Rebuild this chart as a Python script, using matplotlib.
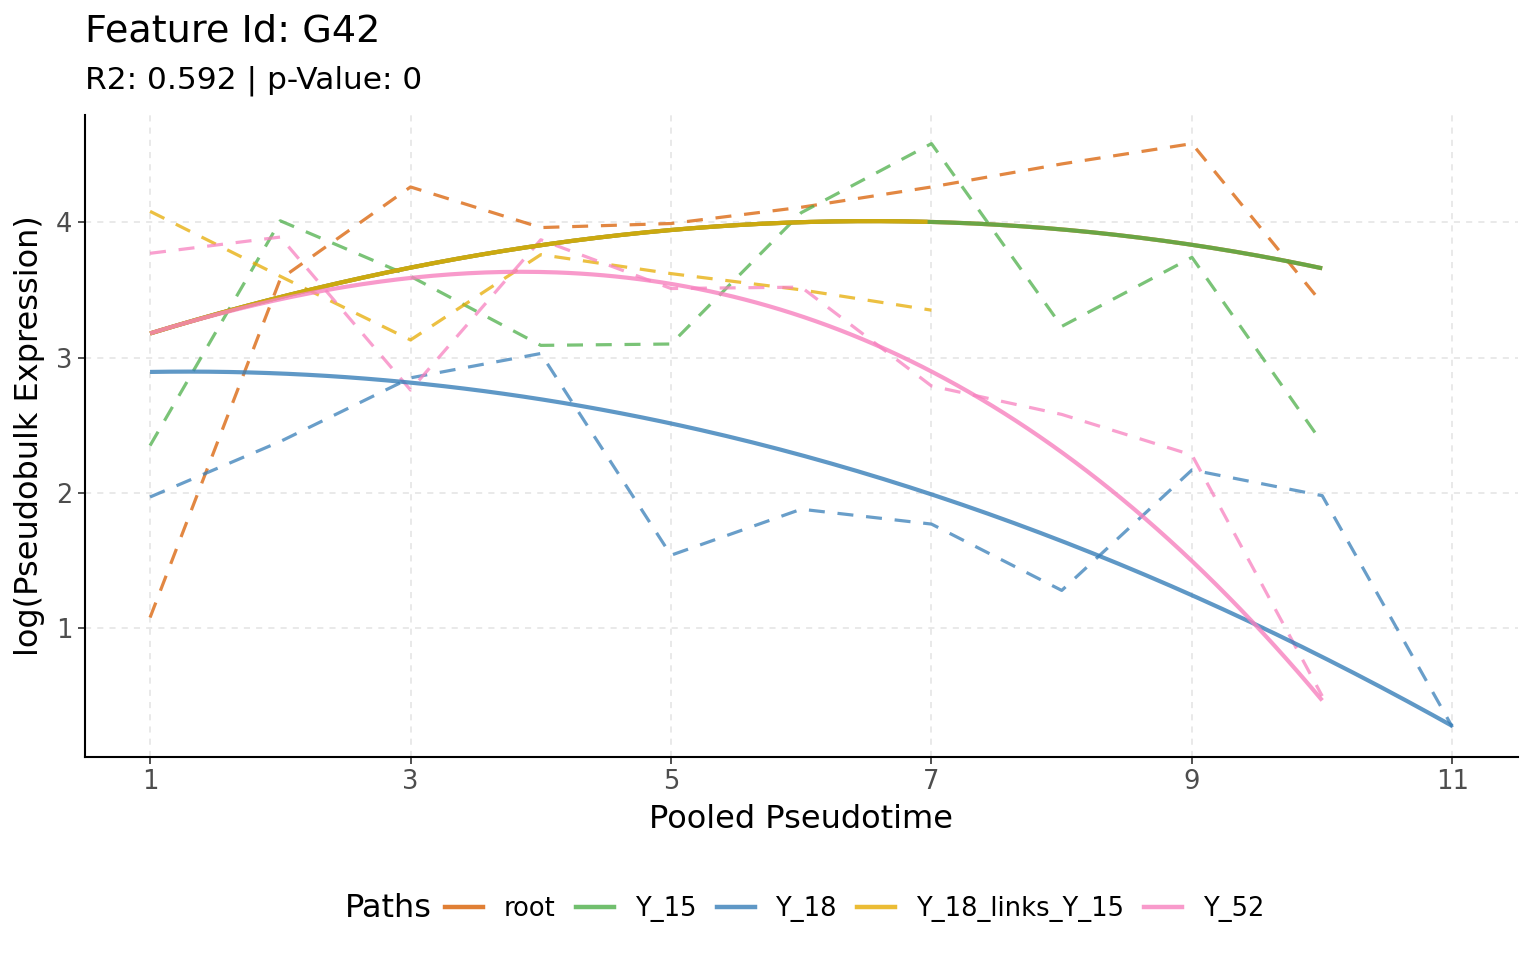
import numpy as np
import matplotlib.pyplot as plt
from matplotlib.lines import Line2D

# pseudobulk expression per path (dashed lines)
x_root = [1, 2, 3, 4, 5, 6, 7, 8, 9, 10]
y_root = [1.08, 3.58, 4.26, 3.96, 3.99, 4.11, 4.26, 4.43, 4.58, 3.40]

x_y15 = [1, 2, 3, 4, 5, 6, 7, 8, 9, 10]
y_y15 = [2.35, 4.01, 3.60, 3.09, 3.10, 4.07, 4.58, 3.23, 3.74, 2.37]

x_y18 = [1, 2, 3, 4, 5, 6, 7, 8, 9, 10, 11]
y_y18 = [1.97, 2.38, 2.85, 3.03, 1.54, 1.88, 1.77, 1.28, 2.17, 1.98, 0.27]

x_link = [1, 2, 3, 4, 5, 6, 7]
y_link = [4.08, 3.60, 3.13, 3.76, 3.62, 3.50, 3.35]

x_y52 = [1, 2, 3, 4, 5, 6, 7, 8, 9, 10]
y_y52 = [3.77, 3.89, 2.76, 3.87, 3.51, 3.52, 2.79, 2.58, 2.28, 0.50]

# fitted trend values read at integer pseudotime (solid lines)
fit_shared = [3.18, 3.44, 3.67, 3.83, 3.94, 4.00, 4.00, 3.95, 3.83, 3.66]
fit_y18 = [2.89, 2.88, 2.83, 2.69, 2.51, 2.27, 1.99, 1.64, 1.25, 0.80, 0.27]
fit_y52 = [3.18, 3.43, 3.59, 3.62, 3.55, 3.31, 2.91, 2.28, 1.50, 0.47]

paths = ['root', 'Y_15', 'Y_18', 'Y_18_links_Y_15', 'Y_52']
colors = {'root': '#d95f02', 'Y_15': '#4daf4a', 'Y_18': '#377eb8',
          'Y_18_links_Y_15': '#e6ab02', 'Y_52': '#f781bf'}


def smooth(xs, ys, deg=3):
  # least-squares polynomial through the read trend values
  coef = np.polyfit(xs, ys, deg)
  xf = np.linspace(min(xs), max(xs), 200)
  return xf, np.polyval(coef, xf)


fig = plt.figure(figsize=(15.36, 9.6), dpi=100)
ax = fig.add_axes([0.0553, 0.2115, 0.9327, 0.6685])

dash = dict(ls=(0, (5, 4)), lw=2.3, alpha=0.75)
ax.plot(x_root, y_root, color=colors['root'], **dash)
ax.plot(x_y15, y_y15, color=colors['Y_15'], **dash)
ax.plot(x_y18, y_y18, color=colors['Y_18'], **dash)
ax.plot(x_link, y_link, color=colors['Y_18_links_Y_15'], **dash)
ax.plot(x_y52, y_y52, color=colors['Y_52'], **dash)

solid = dict(lw=3.0, alpha=0.8, solid_capstyle='butt')
xs, ys = smooth(x_root, fit_shared)
ax.plot(xs, ys, color=colors['root'], **solid)
ax.plot(xs, ys, color=colors['Y_15'], **solid)
m = xs <= 7
ax.plot(xs[m], ys[m], color=colors['Y_18_links_Y_15'], **solid)
xs, ys = smooth(x_y18, fit_y18)
ax.plot(xs, ys, color=colors['Y_18'], **solid)
xs, ys = smooth(x_y52, fit_y52)
ax.plot(xs, ys, color=colors['Y_52'], **solid)

ax.set_xlim(0.5, 11.5)
ax.set_ylim(0.05, 4.79)
ax.set_xticks([1, 3, 5, 7, 9, 11])
ax.set_yticks([1, 2, 3, 4])
ax.grid(True, ls=(0, (4, 4)), color='#e3e3e3', lw=1.1)
ax.set_axisbelow(True)
for s in ['top', 'right']:
  ax.spines[s].set_visible(False)
for s in ['left', 'bottom']:
  ax.spines[s].set_linewidth(1.5)
ax.tick_params(labelsize=18.5, colors='#4d4d4d', length=5, width=1.2, pad=4)
ax.tick_params(color='#333333')
ax.set_xlabel('Pooled Pseudotime', fontsize=23, labelpad=6)
ax.set_ylabel('log(Pseudobulk Expression)', fontsize=23, labelpad=8)

fig.text(0.0553, 0.948, 'Feature Id: G42', fontsize=27.5, va='bottom')
fig.text(0.0553, 0.900, 'R2: 0.592 | p-Value: 0', fontsize=22.5, va='bottom')

handles = [Line2D([], [], color=colors[p], lw=3.2, alpha=0.8) for p in paths]
fig.text(0.2245, 0.0535, 'Paths', fontsize=23, va='center')
fig.legend(handles, paths, loc='center', bbox_to_anchor=(0.5565, 0.0535), ncol=5,
           frameon=False, fontsize=18.5, handlelength=1.48, handletextpad=0.8,
           columnspacing=0.8)

fig.savefig('out.png', dpi=100)
